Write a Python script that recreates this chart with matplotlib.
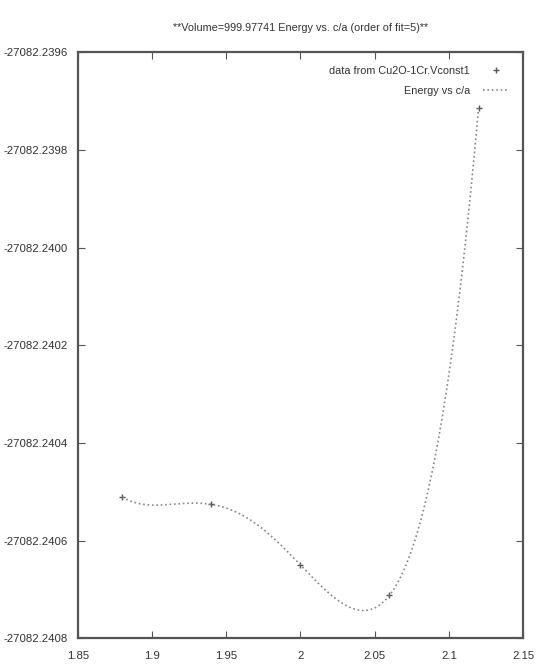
import matplotlib.pyplot as plt
import numpy as np

# c/a ratios and total energies (Ry)
c_over_a = [1.88, 1.94, 2.00, 2.06, 2.12]
energy = [-27082.240511, -27082.240526, -27082.240650, -27082.240712, -27082.239715]

x_ticks = [1.85, 1.9, 1.95, 2.0, 2.05, 2.1, 2.15]
x_labels = ["1.85", "1.9", "1.95", "2", "2.05", "2.1", "2.15"]
y_ticks = [-27082.2408, -27082.2406, -27082.2404, -27082.2402, -27082.2400, -27082.2398, -27082.2396]
y_labels = ["-27082.2408", "-27082.2406", "-27082.2404", "-27082.2402", "-27082.2400", "-27082.2398", "-27082.2396"]

FIT_ORDER = 5


def main():
    plt.rcParams['font.family'] = ['Liberation Sans', 'DejaVu Sans']

    x = np.array(c_over_a)
    e = np.array(energy)
    # polynomial with FIT_ORDER coefficients, fitted around the mean to keep it well conditioned
    e0 = e.mean()
    coef = np.polyfit(x - 2.0, e - e0, FIT_ORDER - 1)
    xs = np.linspace(x.min(), x.max(), 300)
    es = np.polyval(coef, xs - 2.0) + e0

    fig = plt.figure(figsize=(5.37, 6.69), dpi=100)
    ax = fig.add_axes([0.145, 0.046, 0.829, 0.876])

    ax.plot(x, e, '+', color='#555555', markersize=5, mew=1.0, label="data from Cu2O-1Cr.Vconst1")
    ax.plot(xs, es, ':', color='#888888', lw=1.2, label="Energy vs c/a")

    ax.set_xlim(1.85, 2.15)
    ax.set_ylim(-27082.2408, -27082.2396)
    ax.set_xticks(x_ticks, x_labels)
    ax.set_yticks(y_ticks, y_labels)
    ax.tick_params(direction='in', top=True, right=True, length=5, width=0.8,
                   color='#555555', labelsize=8.2, labelcolor='#333333')
    ax.tick_params(axis='x', pad=9)
    ax.tick_params(axis='y', pad=7)
    for s in ax.spines.values():
        s.set_linewidth(1.6)
        s.set_color('#555555')

    ax.set_title("**Volume=999.97741 Energy vs. c/a (order of fit=5)**",
                 fontsize=7.8, color='#333333', pad=15)

    leg = ax.legend(loc='upper right', frameon=False, fontsize=7.8, markerfirst=False,
                    handlelength=2.4, borderaxespad=0.9, labelspacing=0.9, handletextpad=1.2)
    for t in leg.get_texts():
        t.set_ha('right')
        t.set_color('#333333')
    leg._legend_box.align = 'right'

    fig.savefig("out.png")


if __name__ == "__main__":
    main()
